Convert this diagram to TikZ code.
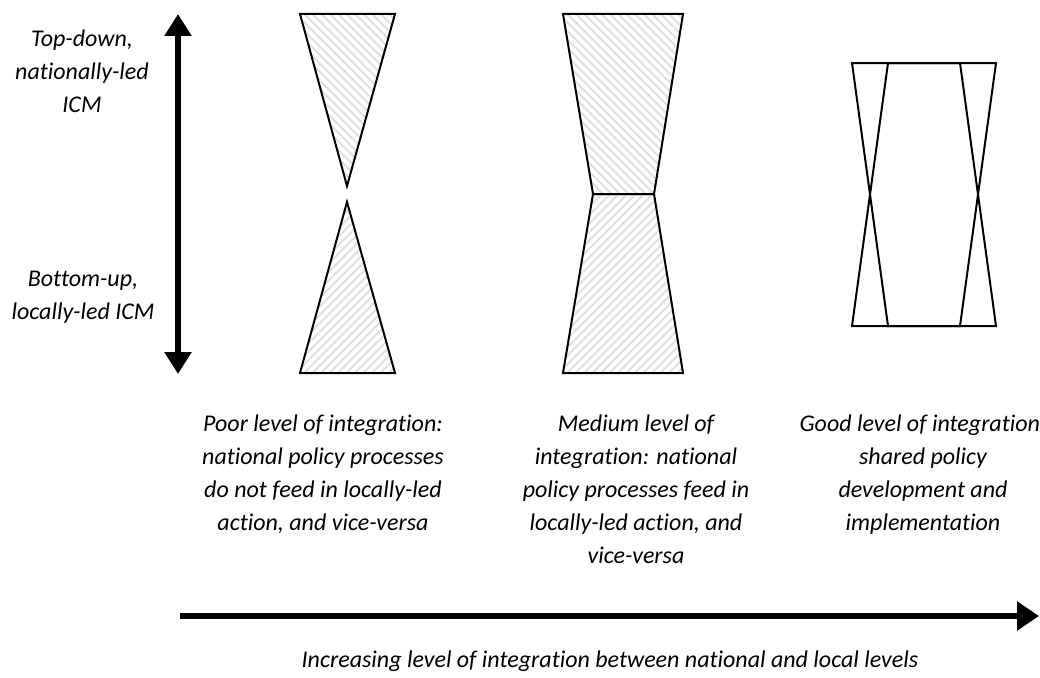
\documentclass[tikz,border=0pt]{standalone}
\usepackage{fontspec}
\setmainfont{Carlito}[Ligatures={NoCommon}]
\usetikzlibrary{arrows.meta,patterns.meta}
\tikzset{
  shapeline/.style={line width=2pt, line join=miter},
  hatchtop/.style={shapeline, pattern={Lines[angle=-45,distance=6pt,line width=1.8pt]}, pattern color=black!13},
  hatchbot/.style={shapeline, pattern={Lines[angle=45,distance=6pt,line width=1.8pt]}, pattern color=black!13},
  lbl/.style={font=\fontsize{24}{33}\selectfont\itshape, align=center, inner sep=0pt, anchor=north},
  bigarrow/.style={line width=6pt, -{Triangle[width=28pt,length=22pt]}},
  dblarrow/.style={line width=6pt, {Triangle[width=26pt,length=22pt]}-{Triangle[width=26pt,length=22pt]}},
}
\begin{document}
\begin{tikzpicture}[x=1pt,y=-1pt]
\useasboundingbox (0,0) rectangle (1040,677);

% vertical arrow
\coordinate (vtop) at (178,14);
\coordinate (vbot) at (178,374);
\draw[dblarrow] (vbot) -- (vtop);

% horizontal arrow
\coordinate (hstart) at (180,616);
\coordinate (hend) at (1039,616);
\draw[bigarrow] (hstart) -- (hend);

% shape 1: poor
\draw[hatchtop] (300,14) -- (395,14) -- (347,186) -- cycle;
\draw[hatchbot] (347,202) -- (395,373) -- (300,373) -- cycle;

% shape 2: medium
\draw[hatchtop] (563,14) -- (683,14) -- (654,194) -- (593,194) -- cycle;
\draw[hatchbot] (593,194) -- (654,194) -- (683,373) -- (563,373) -- cycle;

% shape 3: good
\draw[shapeline] (852,63) -- (996,63) -- (960,326) -- (888,326) -- cycle;
\draw[shapeline] (852,326) -- (996,326) -- (960,63) -- (888,63) -- cycle;

% labels
\node[lbl] (topdown) at (82,30) {Top-down,\\nationally-led\\ICM};
\node[lbl] (bottomup) at (83,271) {Bottom-up,\\locally-led ICM};
\node[lbl] (poor) at (323,415) {Poor level of integration:\\national policy processes\\do not feed in locally-led\\action, and vice-versa};
\node[lbl] (medium) at (636,415) {Medium level of\\integration: national\\policy processes feed in\\locally-led action, and\\vice-versa};
\node[lbl] (good) at (923,415) {Good level of integration:\\shared policy\\development and\\implementation};
\node[lbl] (caption) at (610,651) {Increasing level of integration between national and local levels};
\end{tikzpicture}
\end{document}
